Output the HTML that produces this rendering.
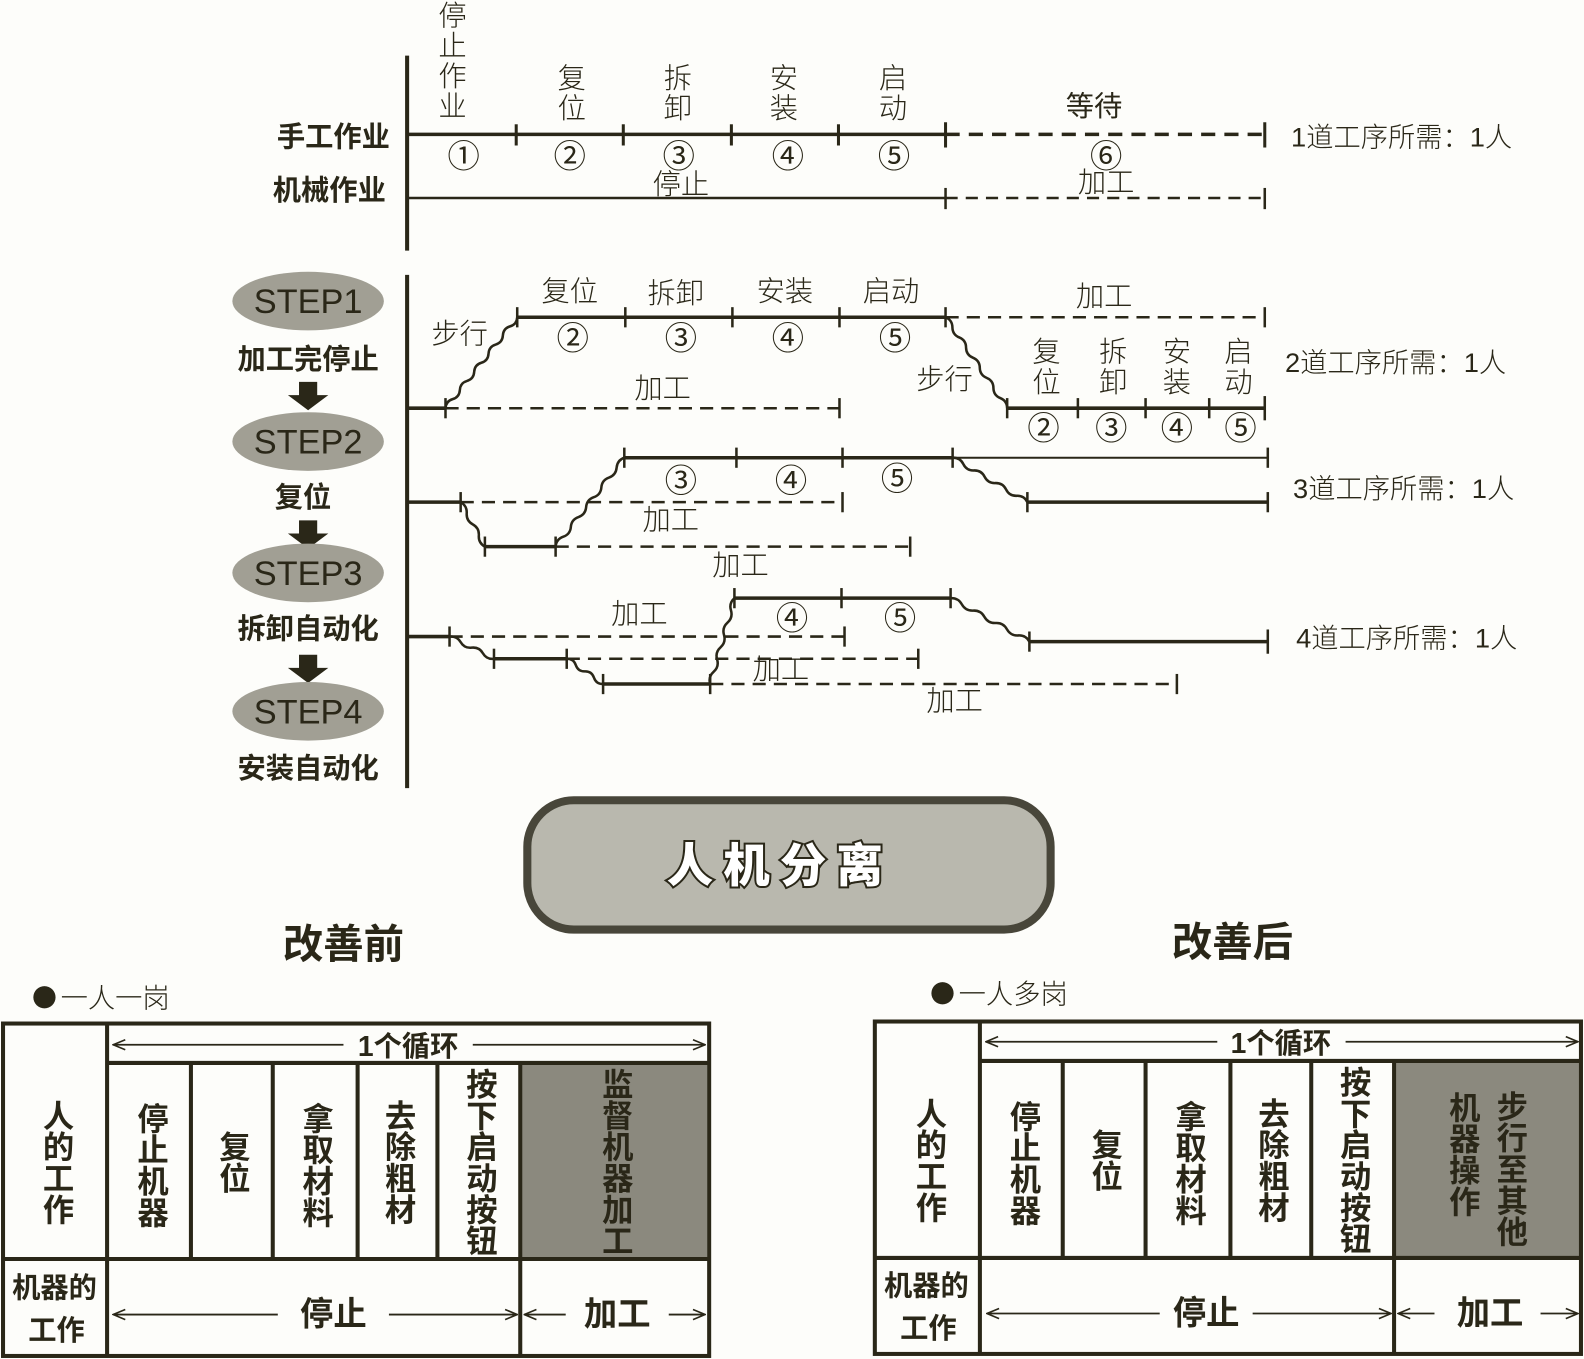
<!DOCTYPE html>
<html><head><meta charset="utf-8"><style>
html,body{margin:0;padding:0;background:#fdfdfa;}
#w{position:absolute;left:0;top:0;width:1568px;height:1345px;transform:scale(1.0102,1.0104);transform-origin:0 0;overflow:hidden;}
svg{position:absolute;left:0;top:0;}
text{font-family:"Liberation Sans","Noto Sans CJK SC",sans-serif;fill:#2a2718;}
.l{font-size:28px;font-weight:300;text-anchor:middle;}
.c{font-size:32px;text-anchor:middle;}
.b{font-size:28px;font-weight:700;text-anchor:middle;}
.r{font-size:27px;font-weight:300;}
.v{position:absolute;display:flex;align-items:center;justify-content:center;writing-mode:vertical-rl;text-orientation:upright;font-family:"Liberation Sans","Noto Sans CJK SC",sans-serif;font-weight:700;font-size:31px;color:#2a2718;line-height:1;letter-spacing:0px;}
</style></head><body><div id="w">
<svg width="1568" height="1345" viewBox="0 0 1568 1345">
<defs>
<marker id="ah" markerWidth="14" markerHeight="12" refX="13" refY="6" orient="auto" markerUnits="userSpaceOnUse"><path d="M1,1 L13,6 L1,11" fill="none" stroke="#2a2718" stroke-width="1.6"/></marker>
</defs>
<g stroke="#2a2718" fill="none" stroke-linecap="butt">
<line x1="403" y1="55" x2="403" y2="248" stroke-width="4"/>
<line x1="403" y1="133" x2="936" y2="133" stroke-width="3.5"/>
<line x1="936" y1="133" x2="1252" y2="133" stroke-width="3.5" stroke-dasharray="14,9"/>
<g stroke-width="3"><line x1="511" y1="123" x2="511" y2="144"/><line x1="617" y1="123" x2="617" y2="144"/><line x1="724" y1="123" x2="724" y2="144"/><line x1="830" y1="123" x2="830" y2="144"/><line x1="936" y1="121" x2="936" y2="146"/><line x1="1252" y1="121" x2="1252" y2="146"/></g>
<line x1="403" y1="196" x2="936" y2="196" stroke-width="2.5"/>
<line x1="936" y1="196" x2="1252" y2="196" stroke-width="2.5" stroke-dasharray="12,8"/>
<line x1="936" y1="186" x2="936" y2="207" stroke-width="2.5"/><line x1="1252" y1="186" x2="1252" y2="207" stroke-width="2.5"/>

<line x1="403" y1="272" x2="403" y2="780" stroke-width="4"/>
<line x1="403" y1="404" x2="441" y2="404" stroke-width="3.5"/>
<line x1="441" y1="404" x2="831" y2="404" stroke-width="2.5" stroke-dasharray="13,8"/>
<line x1="512" y1="314" x2="936" y2="314" stroke-width="3.5"/>
<line x1="936" y1="314" x2="1252" y2="314" stroke-width="2.5" stroke-dasharray="13,8"/>
<line x1="997" y1="404" x2="1252" y2="404" stroke-width="3.5"/>
<g stroke-width="2.5">
<line x1="441" y1="394" x2="441" y2="414"/><line x1="831" y1="394" x2="831" y2="414"/>
<line x1="512" y1="304" x2="512" y2="324"/><line x1="619" y1="304" x2="619" y2="324"/><line x1="725" y1="304" x2="725" y2="324"/><line x1="831" y1="304" x2="831" y2="324"/><line x1="936" y1="304" x2="936" y2="324"/><line x1="1252" y1="304" x2="1252" y2="324"/>
<line x1="997" y1="394" x2="997" y2="414"/><line x1="1067" y1="394" x2="1067" y2="414"/><line x1="1134" y1="394" x2="1134" y2="414"/><line x1="1197" y1="394" x2="1197" y2="414"/><line x1="1252" y1="392" x2="1252" y2="416"/>
</g>
<line x1="403" y1="497" x2="456" y2="497" stroke-width="3.5"/>
<line x1="456" y1="497" x2="834" y2="497" stroke-width="2.5" stroke-dasharray="13,8"/>
<line x1="480" y1="541" x2="550" y2="541" stroke-width="3.5"/>
<line x1="550" y1="541" x2="901" y2="541" stroke-width="2.5" stroke-dasharray="13,8"/>
<line x1="618" y1="453" x2="943" y2="453" stroke-width="3.5"/>
<line x1="943" y1="453" x2="1255" y2="453" stroke-width="2"/>
<line x1="1017" y1="497" x2="1255" y2="497" stroke-width="3.5"/>
<g stroke-width="2.5">
<line x1="456" y1="487" x2="456" y2="507"/><line x1="834" y1="487" x2="834" y2="507"/>
<line x1="480" y1="531" x2="480" y2="551"/><line x1="550" y1="531" x2="550" y2="551"/><line x1="901" y1="531" x2="901" y2="551"/>
<line x1="618" y1="443" x2="618" y2="463"/><line x1="729" y1="443" x2="729" y2="463"/><line x1="834" y1="443" x2="834" y2="463"/><line x1="943" y1="443" x2="943" y2="463"/><line x1="1255" y1="443" x2="1255" y2="463"/>
<line x1="1017" y1="487" x2="1017" y2="507"/><line x1="1255" y1="487" x2="1255" y2="507"/>
</g>
<line x1="403" y1="630" x2="445" y2="630" stroke-width="3.5"/>
<line x1="445" y1="630" x2="836" y2="630" stroke-width="2.5" stroke-dasharray="13,8"/>
<line x1="489" y1="652" x2="561" y2="652" stroke-width="3.5"/>
<line x1="561" y1="652" x2="909" y2="652" stroke-width="2.5" stroke-dasharray="13,8"/>
<line x1="597" y1="677" x2="703" y2="677" stroke-width="3.5"/>
<line x1="703" y1="677" x2="1165" y2="677" stroke-width="2.5" stroke-dasharray="13,8"/>
<line x1="727" y1="592" x2="941" y2="592" stroke-width="3.5"/>
<line x1="1019" y1="635" x2="1255" y2="635" stroke-width="3.5"/>
<g stroke-width="2.5">
<line x1="445" y1="620" x2="445" y2="640"/><line x1="836" y1="620" x2="836" y2="640"/>
<line x1="489" y1="642" x2="489" y2="662"/><line x1="561" y1="642" x2="561" y2="662"/><line x1="909" y1="642" x2="909" y2="662"/>
<line x1="597" y1="667" x2="597" y2="687"/><line x1="703" y1="667" x2="703" y2="687"/><line x1="1165" y1="667" x2="1165" y2="687"/>
<line x1="727" y1="582" x2="727" y2="602"/><line x1="833" y1="582" x2="833" y2="602"/><line x1="941" y1="582" x2="941" y2="602"/>
<line x1="1019" y1="625" x2="1019" y2="645"/><line x1="1255" y1="623" x2="1255" y2="647"/>
</g>
<g id="waves" stroke-width="2.5"></g>
</g>

<g fill="#2a2718">
<path d="M296,378 h18 v13 h11 l-20,15 l-20,-15 h11z"/>
<path d="M296,515 h18 v13 h11 l-20,15 l-20,-15 h11z"/>
<path d="M296,648 h18 v13 h11 l-20,15 l-20,-15 h11z"/>
</g>
<g fill="#a19f94">
<ellipse cx="305" cy="298" rx="75" ry="29"/>
<ellipse cx="305" cy="437" rx="75" ry="29"/>
<ellipse cx="305" cy="567" rx="75" ry="29"/>
<ellipse cx="305" cy="704" rx="75" ry="29"/>
</g>
<g style="font-size:34px;text-anchor:middle;font-weight:300">
<text x="305" y="310">STEP1</text><text x="305" y="449">STEP2</text><text x="305" y="579">STEP3</text><text x="305" y="716">STEP4</text>
</g>
<text class="b" x="305" y="365">加工完停止</text>
<text class="b" x="300" y="502">复位</text>
<text class="b" x="305" y="632">拆卸自动化</text>
<text class="b" x="305" y="770">安装自动化</text>
<text class="b" x="330" y="145">手工作业</text>
<text class="b" x="326" y="198">机械作业</text>

<text class="l" x="448" y="25">停<tspan x="448" dy="30">止</tspan><tspan x="448" dy="30">作</tspan><tspan x="448" dy="30">业</tspan></text>
<text class="l" x="566" y="87">复<tspan x="566" dy="30">位</tspan></text>
<text class="l" x="671" y="87">拆<tspan x="671" dy="30">卸</tspan></text>
<text class="l" x="776" y="87">安<tspan x="776" dy="30">装</tspan></text>
<text class="l" x="884" y="87">启<tspan x="884" dy="30">动</tspan></text>
<text class="l" x="1083" y="115" style="font-weight:400">等待</text>
<text class="c" x="459" y="166">①</text><text class="c" x="564" y="166">②</text><text class="c" x="672" y="166">③</text><text class="c" x="780" y="166">④</text><text class="c" x="885" y="166">⑤</text><text class="c" x="1095" y="166">⑥</text>
<text class="l" x="674" y="192">停止</text>
<text class="l" x="1095" y="190">加工</text>
<text class="r" x="1278" y="145">1道工序所需：1人</text>

<text class="l" x="455" y="340">步行</text>
<text class="l" x="564" y="298">复位</text><text class="l" x="669" y="300">拆卸</text><text class="l" x="777" y="298">安装</text><text class="l" x="882" y="298">启动</text>
<text class="c" x="567" y="346">②</text><text class="c" x="674" y="346">③</text><text class="c" x="780" y="346">④</text><text class="c" x="886" y="346">⑤</text>
<text class="l" x="656" y="394">加工</text>
<text class="l" x="1093" y="303">加工</text>
<text class="l" x="935" y="385">步行</text>
<text class="l" x="1036" y="358">复<tspan x="1036" dy="30">位</tspan></text>
<text class="l" x="1102" y="358">拆<tspan x="1102" dy="30">卸</tspan></text>
<text class="l" x="1165" y="358">安<tspan x="1165" dy="30">装</tspan></text>
<text class="l" x="1226" y="358">启<tspan x="1226" dy="30">动</tspan></text>
<text class="c" x="1033" y="435">②</text><text class="c" x="1100" y="435">③</text><text class="c" x="1165" y="435">④</text><text class="c" x="1228" y="435">⑤</text>
<text class="r" x="1272" y="368">2道工序所需：1人</text>
<text class="c" x="674" y="487">③</text><text class="c" x="783" y="487">④</text><text class="c" x="888" y="485">⑤</text>
<text class="l" x="664" y="524">加工</text><text class="l" x="733" y="569">加工</text>
<text class="r" x="1280" y="493">3道工序所需：1人</text>
<text class="l" x="633" y="617">加工</text><text class="l" x="773" y="672">加工</text><text class="l" x="945" y="703">加工</text>
<text class="c" x="784" y="623">④</text><text class="c" x="891" y="623">⑤</text>
<text class="r" x="1283" y="641">4道工序所需：1人</text>

<rect x="522" y="792" width="518" height="128" rx="46" fill="#b9b8ae" stroke="#48463a" stroke-width="8"/>
<text x="772" y="873" style="font-size:46px;font-weight:900;text-anchor:middle;letter-spacing:10px;fill:#fff;stroke:#2a2718;stroke-width:4;paint-order:stroke">人机分离</text>
<text x="340" y="948" style="font-size:40px;font-weight:700;text-anchor:middle">改善前</text>
<text x="1220" y="946" style="font-size:40px;font-weight:700;text-anchor:middle">改善后</text>
<circle cx="44" cy="987" r="11" fill="#2a2718"/>
<text x="60" y="997" style="font-size:27px;font-weight:300">一人一岗</text>
<circle cx="933" cy="983" r="11" fill="#2a2718"/>
<text x="949" y="993" style="font-size:27px;font-weight:300">一人多岗</text>

<rect x="515" y="1052" width="185" height="194" fill="#8b897e"/>
<g stroke="#2a2718" stroke-width="4" fill="none">
<rect x="3" y="1013" width="699" height="329"/>
<line x1="106" y1="1013" x2="106" y2="1342"/>
<line x1="106" y1="1052" x2="702" y2="1052"/>
<line x1="3" y1="1246" x2="702" y2="1246"/>
<line x1="189" y1="1052" x2="189" y2="1246"/><line x1="270" y1="1052" x2="270" y2="1246"/><line x1="354" y1="1052" x2="354" y2="1246"/><line x1="433" y1="1052" x2="433" y2="1246"/><line x1="515" y1="1052" x2="515" y2="1342"/>
</g>
<g stroke="#2a2718" stroke-width="1.8" fill="none">
<line x1="340" y1="1034" x2="112" y2="1034" marker-end="url(#ah)"/><line x1="468" y1="1034" x2="698" y2="1034" marker-end="url(#ah)"/>
<line x1="275" y1="1301" x2="112" y2="1301" marker-end="url(#ah)"/><line x1="385" y1="1301" x2="512" y2="1301" marker-end="url(#ah)"/>
<line x1="560" y1="1301" x2="519" y2="1301" marker-end="url(#ah)"/><line x1="662" y1="1301" x2="698" y2="1301" marker-end="url(#ah)"/>
</g>
<text x="404" y="1045" style="font-size:28px;font-weight:700;text-anchor:middle">1个循环</text>
<text x="330" y="1312" style="font-size:33px;font-weight:700;text-anchor:middle">停止</text>
<text x="611" y="1312" style="font-size:33px;font-weight:700;text-anchor:middle">加工</text>
<text x="54" y="1284" style="font-size:28px;font-weight:700;text-anchor:middle">机器的</text>
<text x="56" y="1326" style="font-size:28px;font-weight:700;text-anchor:middle">工作</text>

<rect x="1380" y="1050" width="185" height="195" fill="#8b897e"/>
<g stroke="#2a2718" stroke-width="4" fill="none">
<rect x="866" y="1011" width="699" height="329"/>
<line x1="970" y1="1011" x2="970" y2="1340"/>
<line x1="970" y1="1050" x2="1565" y2="1050"/>
<line x1="866" y1="1245" x2="1565" y2="1245"/>
<line x1="1052" y1="1050" x2="1052" y2="1245"/><line x1="1134" y1="1050" x2="1134" y2="1245"/><line x1="1218" y1="1050" x2="1218" y2="1245"/><line x1="1298" y1="1050" x2="1298" y2="1245"/><line x1="1380" y1="1050" x2="1380" y2="1340"/>
</g>
<g stroke="#2a2718" stroke-width="1.8" fill="none">
<line x1="1205" y1="1031" x2="976" y2="1031" marker-end="url(#ah)"/><line x1="1332" y1="1031" x2="1562" y2="1031" marker-end="url(#ah)"/>
<line x1="1148" y1="1300" x2="977" y2="1300" marker-end="url(#ah)"/><line x1="1240" y1="1300" x2="1377" y2="1300" marker-end="url(#ah)"/>
<line x1="1420" y1="1300" x2="1384" y2="1300" marker-end="url(#ah)"/><line x1="1525" y1="1300" x2="1562" y2="1300" marker-end="url(#ah)"/>
</g>
<text x="1268" y="1042" style="font-size:28px;font-weight:700;text-anchor:middle">1个循环</text>
<text x="1194" y="1311" style="font-size:33px;font-weight:700;text-anchor:middle">停止</text>
<text x="1475" y="1311" style="font-size:33px;font-weight:700;text-anchor:middle">加工</text>
<text x="917" y="1282" style="font-size:28px;font-weight:700;text-anchor:middle">机器的</text>
<text x="919" y="1324" style="font-size:28px;font-weight:700;text-anchor:middle">工作</text>
</svg>

<div class="v" style="left:5px;top:1055px;width:100px;height:190px;">人的工作</div>
<div class="v" style="left:108px;top:1054px;width:81px;height:192px;padding-top:6px;box-sizing:border-box">停止机器</div>
<div class="v" style="left:189px;top:1054px;width:81px;height:192px;">复位</div>
<div class="v" style="left:270px;top:1054px;width:84px;height:192px;padding-top:6px;box-sizing:border-box">拿取材料</div>
<div class="v" style="left:354px;top:1054px;width:79px;height:192px;">去除粗材</div>
<div class="v" style="left:433px;top:1054px;width:82px;height:192px;">按下启动按钮</div>
<div class="v" style="left:515px;top:1054px;width:187px;height:192px;">监督机器加工</div>
<div class="v" style="left:868px;top:1053px;width:102px;height:190px;">人的工作</div>
<div class="v" style="left:972px;top:1052px;width:80px;height:192px;padding-top:6px;box-sizing:border-box">停止机器</div>
<div class="v" style="left:1052px;top:1052px;width:82px;height:192px;">复位</div>
<div class="v" style="left:1134px;top:1052px;width:84px;height:192px;padding-top:6px;box-sizing:border-box">拿取材料</div>
<div class="v" style="left:1218px;top:1052px;width:80px;height:192px;">去除粗材</div>
<div class="v" style="left:1298px;top:1052px;width:82px;height:192px;">按下启动按钮</div>
<div class="v" style="left:1425px;top:1052px;width:44px;height:180px;">机器操作</div>
<div class="v" style="left:1472px;top:1060px;width:44px;height:192px;">步行至其他</div>
</div>
<script>
(function(){
var g=document.getElementById('waves');
function wave(x1,y1,x2,y2){
 var dx=x2-x1,dy=y2-y1,L=Math.sqrt(dx*dx+dy*dy),n=Math.max(3,Math.round(L/12));
 var nx=-dy/L,ny=dx/L,d='M'+x1+','+y1;
 for(var i=0;i<n;i++){
  var t0=i/n,t1=(i+1)/n,tm=(t0+t1)/2,a=(i%2?4:-4);
  var cx=x1+dx*tm+nx*a,cy=y1+dy*tm+ny*a;
  d+=' Q'+cx.toFixed(1)+','+cy.toFixed(1)+' '+(x1+dx*t1).toFixed(1)+','+(y1+dy*t1).toFixed(1);
 }
 var p=document.createElementNS('http://www.w3.org/2000/svg','path');
 p.setAttribute('d',d);g.appendChild(p);
}
wave(441,404,512,314);wave(936,314,997,404);
wave(456,497,480,541);wave(550,541,618,453);wave(943,453,1017,497);
wave(445,630,489,652);wave(561,652,597,677);wave(703,677,727,592);wave(941,592,1019,635);
})();
</script>
</body></html>
